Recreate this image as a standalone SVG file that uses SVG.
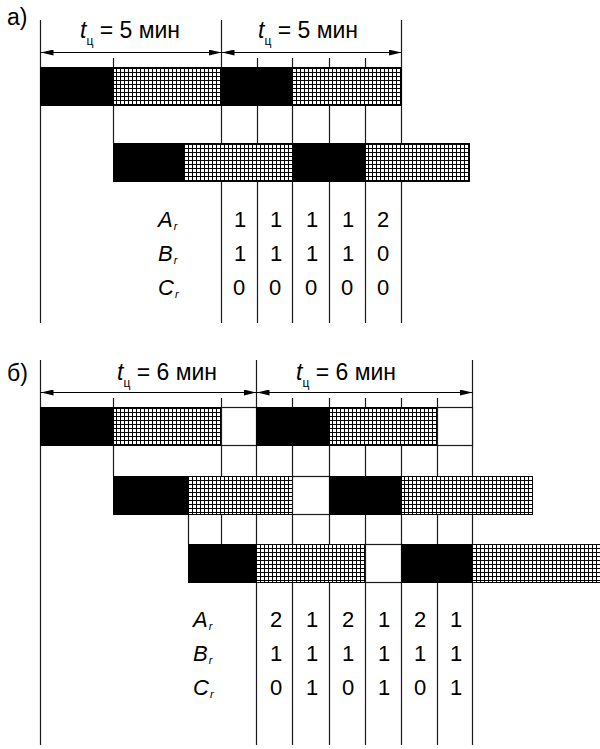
<svg xmlns="http://www.w3.org/2000/svg" width="600" height="749" viewBox="0 0 600 749">
<style>
  .ln { stroke: #1a1a1a; stroke-width: 1.2; fill: none; }
  .blk { fill: #000; stroke: #000; stroke-width: 1; }
  .wht { fill: #fff; stroke: #1a1a1a; stroke-width: 1.2; }
  .grd { fill: url(#grid); stroke: #000; stroke-width: 1; }
  .t { font-family: "Liberation Sans", Arial, sans-serif; font-size: 23px; fill: #000; }
  .lb { font-family: "Liberation Sans", Arial, sans-serif; font-size: 22px; fill: #000; font-style: italic; }
  .v { font-family: "Liberation Sans", Arial, sans-serif; font-size: 22px; fill: #000; text-anchor: middle; }
  .it { font-style: italic; }
  .dim { stroke: #000; stroke-width: 1.2; fill: none; marker-start: url(#arrS); marker-end: url(#arrE); }
</style>
<defs>
  <pattern id="grid" patternUnits="userSpaceOnUse" width="4" height="4">
    <rect width="4" height="4" fill="#fff"/>
    <path d="M0 0.5H4M0.5 0V4" stroke="#000" stroke-width="1"/>
  </pattern>
  <marker id="arrE" markerWidth="13" markerHeight="6" refX="13" refY="3" orient="auto" markerUnits="userSpaceOnUse">
    <path d="M0 0L13 3L0 6Z" fill="#000"/>
  </marker>
  <marker id="arrS" markerWidth="13" markerHeight="6" refX="0" refY="3" orient="auto" markerUnits="userSpaceOnUse">
    <path d="M13 0L0 3L13 6Z" fill="#000"/>
  </marker>
</defs>

<!-- ================= Part a ================= -->
<g id="part-a-grid">
  <line class="ln" x1="40.5" y1="20" x2="40.5" y2="323"/>
  <line class="ln" x1="221.5" y1="20" x2="221.5" y2="323"/>
  <line class="ln" x1="401.5" y1="20" x2="401.5" y2="323"/>
  <line class="ln" x1="113.5" y1="58" x2="113.5" y2="143"/>
  <line class="ln" x1="257.5" y1="58" x2="257.5" y2="323"/>
  <line class="ln" x1="292.5" y1="58" x2="292.5" y2="323"/>
  <line class="ln" x1="329.5" y1="58" x2="329.5" y2="323"/>
  <line class="ln" x1="365.5" y1="58" x2="365.5" y2="323"/>
</g>
<g id="part-a-dims">
  <line class="dim" x1="40.5" y1="52.5" x2="221.5" y2="52.5"/>
  <line class="dim" x1="221.5" y1="52.5" x2="401.5" y2="52.5"/>
</g>
<g id="part-a-labels">
  <text class="t" x="7" y="25">а)</text>
  <text class="t" x="80" y="38"><tspan class="it">t</tspan><tspan font-size="12" dy="7">ц</tspan><tspan dy="-7"> = 5 мин</tspan></text>
  <text class="t" x="258" y="38"><tspan class="it">t</tspan><tspan font-size="12" dy="7">ц</tspan><tspan dy="-7"> = 5 мин</tspan></text>
</g>
<g id="part-a-bar1">
  <rect class="blk" x="40.5" y="67.5" width="73" height="38"/>
  <rect class="grd" x="113.5" y="67.5" width="108" height="38"/>
  <rect class="blk" x="221.5" y="67.5" width="71" height="38"/>
  <rect class="grd" x="292.5" y="67.5" width="109" height="38"/>
</g>
<g id="part-a-bar2">
  <rect class="blk" x="113.5" y="143.5" width="70" height="38"/>
  <rect class="grd" x="183.5" y="143.5" width="109" height="38"/>
  <rect class="blk" x="292.5" y="143.5" width="73" height="38"/>
  <rect class="grd" x="365.5" y="143.5" width="104" height="38"/>
</g>
<g id="part-a-table">
  <text class="lb" x="158" y="227">A<tspan font-size="11" dx="1" dy="3">r</tspan></text>
  <text class="lb" x="158" y="261">B<tspan font-size="11" dx="1" dy="3">r</tspan></text>
  <text class="lb" x="158" y="295">C<tspan font-size="11" dx="1" dy="3">r</tspan></text>
  <text class="v" x="240" y="227">1</text><text class="v" x="276" y="227">1</text><text class="v" x="312" y="227">1</text><text class="v" x="348" y="227">1</text><text class="v" x="383" y="227">2</text>
  <text class="v" x="240" y="261">1</text><text class="v" x="276" y="261">1</text><text class="v" x="312" y="261">1</text><text class="v" x="348" y="261">1</text><text class="v" x="383" y="261">0</text>
  <text class="v" x="239" y="295">0</text><text class="v" x="275" y="295">0</text><text class="v" x="311" y="295">0</text><text class="v" x="347" y="295">0</text><text class="v" x="383" y="295">0</text>
</g>

<!-- ================= Part b ================= -->
<g id="part-b-grid">
  <line class="ln" x1="40.5" y1="360" x2="40.5" y2="745"/>
  <line class="ln" x1="256.5" y1="360" x2="256.5" y2="745"/>
  <line class="ln" x1="472.5" y1="360" x2="472.5" y2="745"/>
  <line class="ln" x1="113.5" y1="398" x2="113.5" y2="476"/>
  <line class="ln" x1="221.5" y1="398" x2="221.5" y2="544"/>
  <line class="ln" x1="188.5" y1="514" x2="188.5" y2="544"/>
  <line class="ln" x1="292.5" y1="398" x2="292.5" y2="745"/>
  <line class="ln" x1="329.5" y1="398" x2="329.5" y2="745"/>
  <line class="ln" x1="365.5" y1="398" x2="365.5" y2="745"/>
  <line class="ln" x1="401.5" y1="398" x2="401.5" y2="745"/>
  <line class="ln" x1="437.5" y1="398" x2="437.5" y2="745"/>
</g>
<g id="part-b-dims">
  <line class="dim" x1="40.5" y1="392.5" x2="256.5" y2="392.5"/>
  <line class="dim" x1="256.5" y1="392.5" x2="472.5" y2="392.5"/>
</g>
<g id="part-b-labels">
  <text class="t" x="7" y="381">б)</text>
  <text class="t" x="117" y="380"><tspan class="it">t</tspan><tspan font-size="12" dy="7">ц</tspan><tspan dy="-7"> = 6 мин</tspan></text>
  <text class="t" x="296" y="380"><tspan class="it">t</tspan><tspan font-size="12" dy="7">ц</tspan><tspan dy="-7"> = 6 мин</tspan></text>
</g>
<g id="part-b-bar1">
  <rect class="blk" x="40.5" y="407.5" width="73" height="38"/>
  <rect class="grd" x="113.5" y="407.5" width="108" height="38"/>
  <rect class="wht" x="221.5" y="407.5" width="35" height="38"/>
  <rect class="blk" x="256.5" y="407.5" width="73" height="38"/>
  <rect class="grd" x="329.5" y="407.5" width="108" height="38"/>
  <rect class="wht" x="437.5" y="407.5" width="35" height="38"/>
</g>
<g id="part-b-bar2">
  <rect class="blk" x="113.5" y="476.5" width="75" height="38"/>
  <rect class="grd" x="188.5" y="476.5" width="104" height="38"/>
  <rect class="wht" x="292.5" y="476.5" width="37" height="38"/>
  <rect class="blk" x="329.5" y="476.5" width="72" height="38"/>
  <rect class="grd" x="401.5" y="476.5" width="131" height="38"/>
</g>
<g id="part-b-bar3">
  <rect class="blk" x="188.5" y="544.5" width="68" height="38"/>
  <rect class="grd" x="256.5" y="544.5" width="109" height="38"/>
  <rect class="wht" x="365.5" y="544.5" width="36" height="38"/>
  <rect class="blk" x="401.5" y="544.5" width="71" height="38"/>
  <rect class="grd" x="472.5" y="544.5" width="128" height="38"/>
</g>
<g id="part-b-table">
  <text class="lb" x="193" y="627">A<tspan font-size="11" dx="1" dy="3">r</tspan></text>
  <text class="lb" x="193" y="661">B<tspan font-size="11" dx="1" dy="3">r</tspan></text>
  <text class="lb" x="193" y="695">C<tspan font-size="11" dx="1" dy="3">r</tspan></text>
  <text class="v" x="276" y="627">2</text><text class="v" x="312" y="627">1</text><text class="v" x="348" y="627">2</text><text class="v" x="384" y="627">1</text><text class="v" x="420" y="627">2</text><text class="v" x="456" y="627">1</text>
  <text class="v" x="276" y="661">1</text><text class="v" x="312" y="661">1</text><text class="v" x="348" y="661">1</text><text class="v" x="384" y="661">1</text><text class="v" x="420" y="661">1</text><text class="v" x="456" y="661">1</text>
  <text class="v" x="276" y="695">0</text><text class="v" x="312" y="695">1</text><text class="v" x="348" y="695">0</text><text class="v" x="384" y="695">1</text><text class="v" x="420" y="695">0</text><text class="v" x="456" y="695">1</text>
</g>
</svg>
